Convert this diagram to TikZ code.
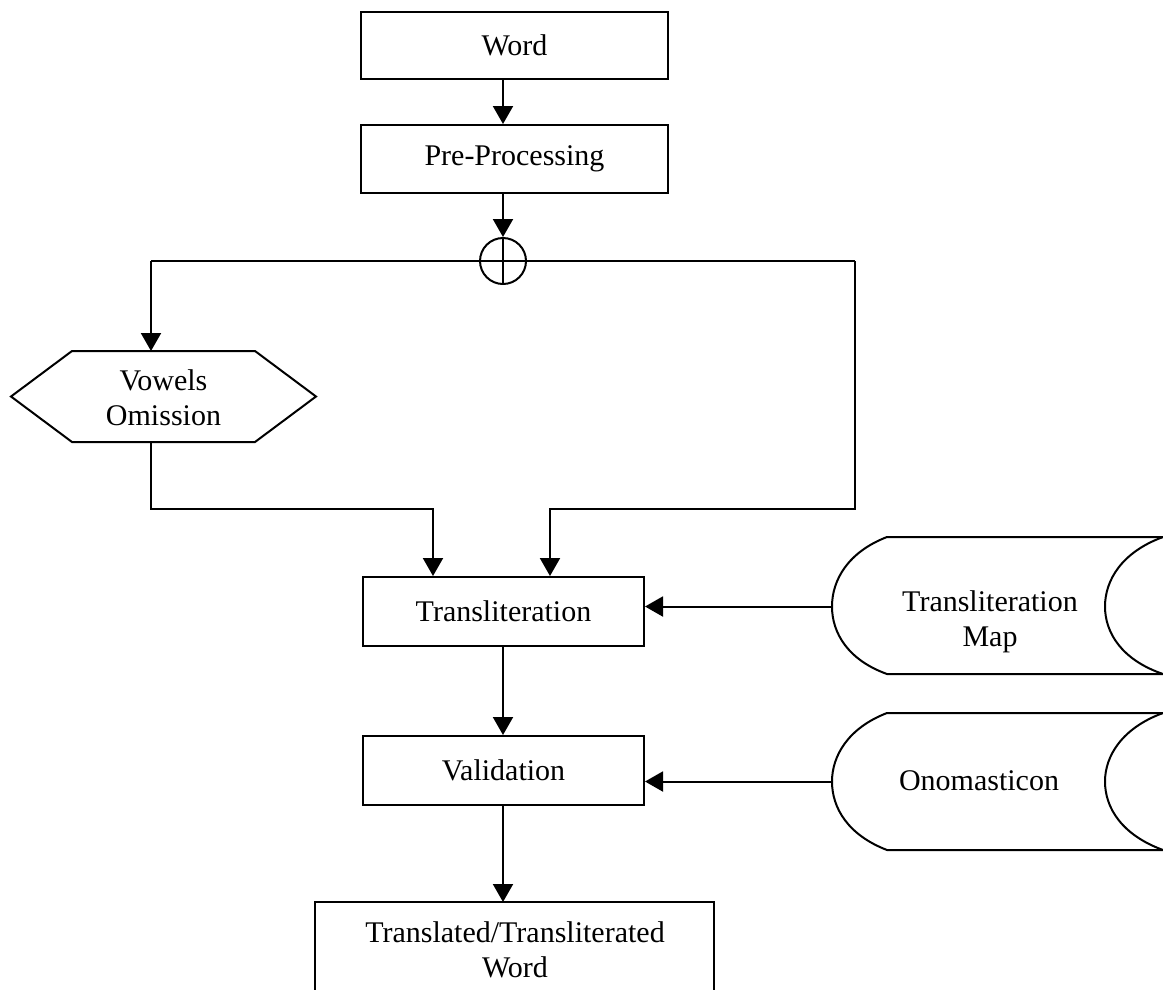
\documentclass[tikz,border=0pt]{standalone}
\usepackage{fontspec}
\setmainfont{Liberation Serif}
\usetikzlibrary{arrows.meta}
\begin{document}
\begin{tikzpicture}[x=1pt,y=-1pt,line width=2pt,
  box/.style={draw,rectangle,inner sep=0pt},
  lbl/.style={font=\fontsize{30}{35}\selectfont,align=center,inner sep=0pt},
  arr/.style={-{Triangle[length=18pt,width=20pt]}}]
\clip (0,0) rectangle (1163,989);
% boxes
\node[box,lbl,minimum width=307pt,minimum height=67pt] (word) at (514.5,45.5) {Word};
\node[box,lbl,minimum width=307pt,minimum height=68pt] (pre) at (514.5,159) {Pre-Processing};
\node[draw,circle,minimum size=46pt,inner sep=0pt] (junc) at (503,261) {};
\node[box,lbl,minimum width=281pt,minimum height=69pt] (tr) at (503.5,611.5) {Transliteration};
\node[box,lbl,minimum width=281pt,minimum height=69pt] (val) at (503.5,770.5) {Validation};
% vowels omission hexagon
\node[lbl] (vow) at (163.5,398) {Vowels\\Omission};
\draw (11,396.5) -- (72,351) -- (255,351) -- (316,396.5) -- (255,442) -- (72,442) -- cycle;
% output box (open at the bottom edge of the page)
\node[lbl] (out) at (515,950) {Translated/Transliterated\\Word};
\draw (315,995) -- (315,902) -- (714,902) -- (714,995);
% stores
\node[lbl] (map) at (990,622) {Transliteration\\Map};
\draw (1163,537) -- (887,537) .. controls (848,552) and (832,580) .. (832,606.5)
      .. controls (832,633) and (848,660) .. (887,674) -- (1163,674);
\draw (1163,537) .. controls (1122,552) and (1105,580) .. (1105,606.5)
      .. controls (1105,633) and (1122,660) .. (1163,674);
\node[lbl] (ono) at (979,781) {Onomasticon};
\draw (1163,713) -- (887,713) .. controls (848,728) and (832,756) .. (832,781.5)
      .. controls (832,808) and (848,835) .. (887,850) -- (1163,850);
\draw (1163,713) .. controls (1122,728) and (1105,756) .. (1105,781.5)
      .. controls (1105,808) and (1122,835) .. (1163,850);
% coordinates
\coordinate (jl) at (151,261);
\coordinate (jr) at (855,261);
\coordinate (vtop) at (151,351);
\coordinate (vbot) at (151,442);
\coordinate (m1) at (433,509);
\coordinate (m2) at (550,509);
\coordinate (outtop) at (503,902);
\coordinate (mapin) at (832,606.5);
\coordinate (onoin) at (832,781.5);
% connectors
\draw[arr] (word.south -| junc) -- (pre.north -| junc);
\draw[arr] (pre.south -| junc) -- (junc.north);
\draw (junc.north) -- (junc.south);
\draw (jl) -- (jr);
\draw[arr] (jl) -- (vtop);
\draw[arr] (vbot) |- (m1) -- (m1 |- tr.north);
\draw[arr] (jr) |- (m2) -- (m2 |- tr.north);
\draw[arr] (tr.south -| junc) -- (val.north -| junc);
\draw[arr] (val.south -| junc) -- (outtop);
\draw[arr] (mapin) -- (mapin -| tr.east);
\draw[arr] (onoin) -- (onoin -| val.east);
\end{tikzpicture}
\end{document}
